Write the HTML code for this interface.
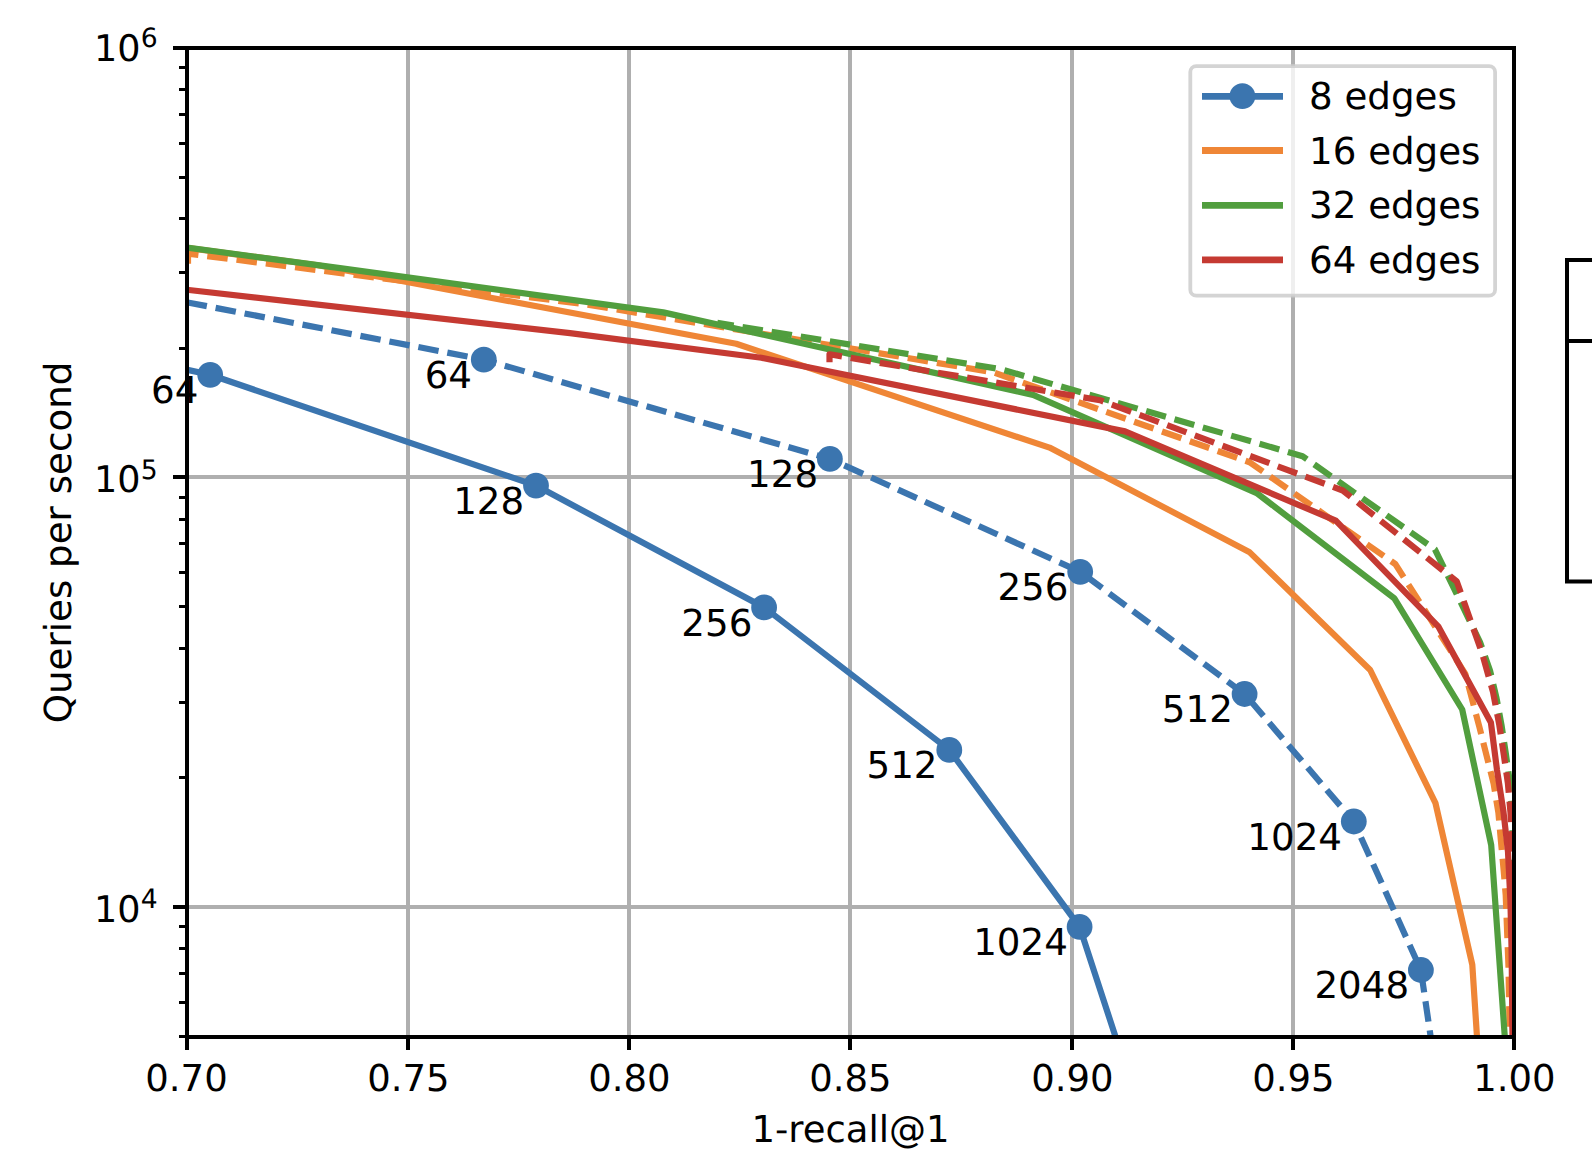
<!DOCTYPE html>
<html lang="en"><head><meta charset="utf-8"><title>Queries per second vs 1-recall@1</title>
<style>html,body{margin:0;padding:0;background:#fff}body{width:1592px;height:1172px;overflow:hidden}svg{display:block}text{text-rendering:geometricPrecision;font-family:"DejaVu Sans","Liberation Sans",sans-serif;fill:#000}</style></head><body>
<svg width="1592" height="1172" viewBox="0 0 1592 1172">
<rect width="1592" height="1172" fill="#fff"/>
<defs><clipPath id="ax"><rect x="187.0" y="48.0" width="1327.0" height="989.0"/></clipPath></defs>
<path d="M408 48.0V1037.0M629 48.0V1037.0M850 48.0V1037.0M1072 48.0V1037.0M1293 48.0V1037.0M187.0 477H1514.0M187.0 907H1514.0" stroke="#afafaf" stroke-width="4" fill="none"/>
<g clip-path="url(#ax)" fill="none" stroke-linejoin="round">
<polyline points="150.0,361.6 210.2,374.8 536.0,485.6 764.1,607.4 949.3,749.9 1079.6,926.8 1115.6,1037.0 1121.4,1055.0" stroke="#3b75af" stroke-width="6.2"/>
<circle cx="210.2" cy="374.8" r="12.9" fill="#3b75af"/>
<circle cx="536.0" cy="485.6" r="12.9" fill="#3b75af"/>
<circle cx="764.1" cy="607.4" r="12.9" fill="#3b75af"/>
<circle cx="949.3" cy="749.9" r="12.9" fill="#3b75af"/>
<circle cx="1079.6" cy="926.8" r="12.9" fill="#3b75af"/>
<polyline points="150.0,295.2 189.0,302.7 483.8,359.7 829.9,458.9 1080.2,571.8 1244.6,694.0 1353.8,821.5 1420.9,970.0 1430.7,1037.0 1433.0,1052.0" stroke="#3b75af" stroke-width="6.2" stroke-dasharray="20.6 8.9" stroke-dashoffset="-7.8"/>
<circle cx="483.8" cy="359.7" r="12.9" fill="#3b75af"/>
<circle cx="829.9" cy="458.9" r="12.9" fill="#3b75af"/>
<circle cx="1080.2" cy="571.8" r="12.9" fill="#3b75af"/>
<circle cx="1244.6" cy="694" r="12.9" fill="#3b75af"/>
<circle cx="1353.8" cy="821.5" r="12.9" fill="#3b75af"/>
<circle cx="1420.9" cy="970" r="12.9" fill="#3b75af"/>
<polyline points="150.0,242.9 187.0,247.9 318.0,265.2 736.2,343.8 1049.5,447.6 1249.2,551.9 1370.2,670.0 1435.5,803.2 1472.3,964.8 1477.0,1037.0 1478.0,1050.0" stroke="#ef8636" stroke-width="6.2"/>
<polyline points="188.0,264.7 188.0,253.6 585.0,304.2 993.0,372.2 1249.6,462.2 1395.4,564.1 1465.3,673.8 1479.2,726.2 1493.6,783.5 1498.4,812.7 1501.0,841.7 1503.7,870.7 1505.7,895.0 1508.5,967.0 1509.7,1037.0 1509.9,1050.0" stroke="#ef8636" stroke-width="6.2" stroke-dasharray="20.6 8.9" stroke-dashoffset="-1.0"/>
<polyline points="150.0,242.5 187.0,247.5 340.0,268.1 663.2,312.4 1033.1,394.9 1257.3,493.5 1394.2,598.2 1462.2,709.5 1491.2,845.0 1504.8,1037.0 1505.5,1050.0" stroke="#519e3e" stroke-width="6.2"/>
<polyline points="717.3,322.9 1000.4,369.1 1302.6,456.2 1434.9,549.3 1480.0,642.0 1490.0,670.5 1496.5,698.0 1501.5,725.0 1506.0,754.7 1510.0,783.3 1512.0,812.0 1513.0,850.0 1513.5,1037.0" stroke="#519e3e" stroke-width="6.2" stroke-dasharray="20.6 8.9" stroke-dashoffset="4.0"/>
<polyline points="150.0,285.6 189.0,290.0 570.0,333.1 761.4,357.8 1125.0,431.4 1335.8,520.7 1438.2,626.3 1490.9,722.5 1497.0,770.0 1503.5,812.0 1508.0,852.0 1510.4,900.0 1511.6,950.0 1512.5,1037.0 1512.5,1050.0" stroke="#c53a32" stroke-width="6.2"/>
<polyline points="829.5,362.3 829.5,354.3 1100.0,400.2 1342.8,490.5 1456.8,581.5 1482.0,653.0 1493.0,692.0 1499.3,725.0 1503.8,754.7 1507.9,783.3 1510.5,812.7 1511.5,842.0 1512.3,880.0 1513.0,1037.0" stroke="#c53a32" stroke-width="6.2" stroke-dasharray="20.6 8.9" stroke-dashoffset="0"/>
</g>
<path d="M187 1037.0v13M408 1037.0v13M629 1037.0v13M850 1037.0v13M1072 1037.0v13M1293 1037.0v13M1514 1037.0v13M187.0 48h-14M187.0 477h-14M187.0 907h-14" stroke="#000" stroke-width="4" fill="none"/>
<path d="M187.0 1036.5h-8M187.0 1002.5h-8M187.0 973.5h-8M187.0 948.5h-8M187.0 926.5h-8M187.0 777.5h-8M187.0 702.5h-8M187.0 648.5h-8M187.0 606.5h-8M187.0 572.5h-8M187.0 543.5h-8M187.0 519.5h-8M187.0 497.5h-8M187.0 348.5h-8M187.0 272.5h-8M187.0 218.5h-8M187.0 177.5h-8M187.0 143.5h-8M187.0 114.5h-8M187.0 89.5h-8M187.0 67.5h-8" stroke="#000" stroke-width="3" fill="none"/>
<rect x="187.0" y="48.0" width="1327.0" height="989.0" fill="none" stroke="#000" stroke-width="4"/>
<text x="186.5" y="1090.8" font-size="37" text-anchor="middle">0.70</text>
<text x="408.4" y="1090.8" font-size="37" text-anchor="middle">0.75</text>
<text x="629.4" y="1090.8" font-size="37" text-anchor="middle">0.80</text>
<text x="850.4" y="1090.8" font-size="37" text-anchor="middle">0.85</text>
<text x="1072.4" y="1090.8" font-size="37" text-anchor="middle">0.90</text>
<text x="1293.4" y="1090.8" font-size="37" text-anchor="middle">0.95</text>
<text x="1514.4" y="1090.8" font-size="37" text-anchor="middle">1.00</text>
<text x="94.0" y="922.4" font-size="36.6">10<tspan dx="0.2" dy="-14.9" font-size="26.6">4</tspan></text>
<text x="94.0" y="492.3" font-size="36.6">10<tspan dx="0.2" dy="-13.6" font-size="26.6">5</tspan></text>
<text x="94.0" y="60.9" font-size="36.6">10<tspan dx="0.2" dy="-14.3" font-size="26.6">6</tspan></text>
<text x="850.5" y="1142.2" font-size="37" text-anchor="middle">1-recall@1</text>
<text transform="translate(71.2 542.5) rotate(-90)" font-size="37.2" text-anchor="middle">Queries per second</text>
<text x="198.4" y="403.1" font-size="37.2" text-anchor="end">64</text>
<text x="524.2" y="513.9" font-size="37.2" text-anchor="end">128</text>
<text x="752.3" y="635.7" font-size="37.2" text-anchor="end">256</text>
<text x="937.5" y="778.2" font-size="37.2" text-anchor="end">512</text>
<text x="1067.8" y="955.1" font-size="37.2" text-anchor="end">1024</text>
<text x="472.0" y="388.0" font-size="37.2" text-anchor="end">64</text>
<text x="818.1" y="487.2" font-size="37.2" text-anchor="end">128</text>
<text x="1068.4" y="600.1" font-size="37.2" text-anchor="end">256</text>
<text x="1232.8" y="722.3" font-size="37.2" text-anchor="end">512</text>
<text x="1342.0" y="849.8" font-size="37.2" text-anchor="end">1024</text>
<text x="1409.1" y="998.3" font-size="37.2" text-anchor="end">2048</text>
<rect x="1190.3" y="66.1" width="304.8" height="229.6" rx="6" ry="6" fill="#fff" fill-opacity="0.8" stroke="#ccc" stroke-opacity="0.85" stroke-width="3.8"/>
<path d="M1202 96.3H1283" stroke="#3b75af" stroke-width="6.8" fill="none"/>
<text x="1309" y="109.3" font-size="37.2">8 edges</text>
<path d="M1202 150.5H1283" stroke="#ef8636" stroke-width="6.8" fill="none"/>
<text x="1309" y="163.5" font-size="37.2">16 edges</text>
<path d="M1202 205.3H1283" stroke="#519e3e" stroke-width="6.8" fill="none"/>
<text x="1309" y="218.3" font-size="37.2">32 edges</text>
<path d="M1202 259.8H1283" stroke="#c53a32" stroke-width="6.8" fill="none"/>
<text x="1309" y="272.8" font-size="37.2">64 edges</text>
<circle cx="1242.4" cy="96.2" r="12.9" fill="#3b75af"/>
<path d="M1592 260H1567V581.5H1592M1567 341H1592" stroke="#000" stroke-width="4" fill="none" stroke-linecap="square"/>
</svg></body></html>
